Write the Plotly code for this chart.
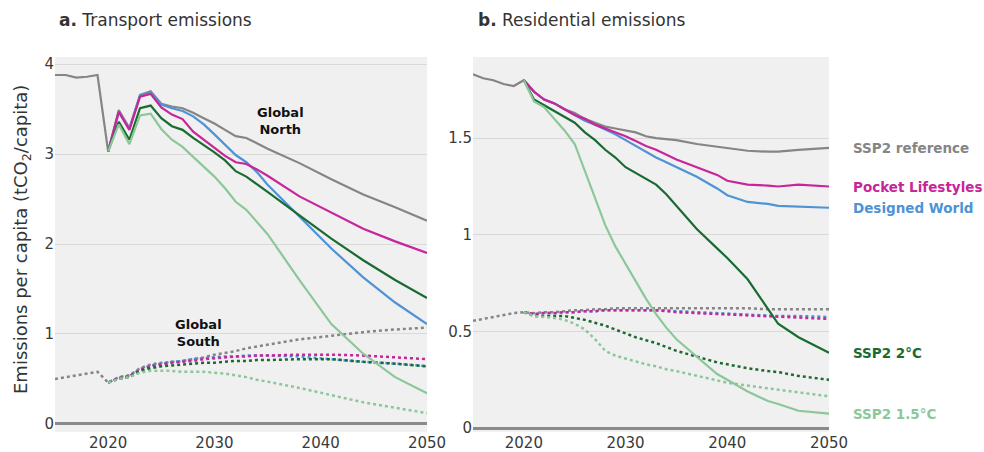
import plotly.graph_objects as go

# ---------------- data ----------------
HIST_YEARS = [2015, 2016, 2017, 2018, 2019]

# Transport (panel a)
YEARS_A = [2020, 2021, 2022, 2023, 2024, 2025, 2026, 2027, 2028, 2029, 2030,
           2031, 2032, 2033, 2034, 2035, 2038, 2041, 2044, 2047, 2050]

north_hist = [3.88, 3.88, 3.85, 3.86, 3.88]
north_ref = [3.03, 3.49, 3.29, 3.66, 3.70, 3.56, 3.53, 3.51, 3.46, 3.40, 3.34,
             3.27, 3.20, 3.18, 3.12, 3.06, 2.90, 2.72, 2.55, 2.41, 2.26]
north_pocket = [3.03, 3.47, 3.27, 3.64, 3.67, 3.52, 3.44, 3.39, 3.25, 3.16, 3.07,
                2.98, 2.91, 2.89, 2.83, 2.76, 2.53, 2.35, 2.17, 2.03, 1.90]
north_designed = [3.03, 3.47, 3.28, 3.65, 3.68, 3.55, 3.51, 3.48, 3.42, 3.33, 3.22,
                  3.11, 2.99, 2.91, 2.80, 2.66, 2.30, 1.95, 1.63, 1.35, 1.11]
north_2c = [3.03, 3.36, 3.16, 3.51, 3.54, 3.40, 3.31, 3.27, 3.18, 3.10, 3.02,
            2.93, 2.81, 2.75, 2.67, 2.58, 2.32, 2.06, 1.82, 1.60, 1.40]
north_15c = [3.03, 3.33, 3.11, 3.43, 3.45, 3.28, 3.16, 3.08, 2.97, 2.86, 2.75,
             2.62, 2.47, 2.38, 2.25, 2.11, 1.60, 1.11, 0.78, 0.52, 0.34]

south_hist = [0.50, 0.52, 0.54, 0.56, 0.58]
south_ref = [0.46, 0.52, 0.54, 0.62, 0.66, 0.68, 0.69, 0.70, 0.72, 0.74, 0.77,
             0.79, 0.81, 0.84, 0.86, 0.88, 0.94, 0.98, 1.02, 1.05, 1.07]
south_pocket = [0.46, 0.51, 0.53, 0.60, 0.64, 0.66, 0.68, 0.69, 0.70, 0.72, 0.73,
                0.74, 0.75, 0.75, 0.76, 0.76, 0.77, 0.77, 0.76, 0.74, 0.72]
south_designed = [0.46, 0.51, 0.53, 0.61, 0.65, 0.67, 0.69, 0.70, 0.72, 0.73, 0.74,
                  0.75, 0.75, 0.76, 0.76, 0.76, 0.75, 0.72, 0.69, 0.67, 0.64]
south_2c = [0.46, 0.50, 0.52, 0.59, 0.62, 0.64, 0.65, 0.66, 0.67, 0.68, 0.68,
            0.69, 0.70, 0.70, 0.71, 0.71, 0.72, 0.72, 0.69, 0.67, 0.64]
south_15c = [0.46, 0.50, 0.52, 0.57, 0.59, 0.59, 0.59, 0.58, 0.58, 0.58, 0.57,
             0.56, 0.54, 0.52, 0.49, 0.47, 0.40, 0.32, 0.24, 0.18, 0.12]

# Residential (panel b)
YEARS_B = [2020, 2021, 2022, 2023, 2024, 2025, 2026, 2027, 2028, 2029, 2030,
           2031, 2032, 2033, 2034, 2035, 2037, 2039, 2040, 2042, 2044, 2045, 2047, 2050]

res_north_hist = [1.83, 1.81, 1.80, 1.78, 1.77]
res_north_ref = [1.80, 1.74, 1.70, 1.68, 1.65, 1.63, 1.60, 1.58, 1.56, 1.55, 1.54,
                 1.53, 1.51, 1.50, 1.495, 1.49, 1.47, 1.455, 1.45, 1.435, 1.43, 1.43, 1.44, 1.45]
res_north_pocket = [1.80, 1.74, 1.70, 1.68, 1.65, 1.62, 1.60, 1.57, 1.55, 1.53, 1.51,
                    1.485, 1.46, 1.44, 1.415, 1.39, 1.35, 1.31, 1.28, 1.26, 1.255, 1.25, 1.26, 1.25]
res_north_designed = [1.80, 1.74, 1.70, 1.68, 1.65, 1.62, 1.59, 1.57, 1.545, 1.52, 1.49,
                      1.46, 1.43, 1.40, 1.375, 1.35, 1.30, 1.24, 1.205, 1.17, 1.16, 1.15, 1.145, 1.14]
res_north_2c = [1.80, 1.70, 1.67, 1.64, 1.61, 1.58, 1.53, 1.49, 1.44, 1.40, 1.35,
                1.32, 1.29, 1.26, 1.21, 1.15, 1.03, 0.93, 0.88, 0.77, 0.62, 0.54, 0.47, 0.39]
res_north_15c = [1.80, 1.69, 1.66, 1.60, 1.54, 1.47, 1.33, 1.18, 1.05, 0.94, 0.85,
                 0.76, 0.67, 0.59, 0.52, 0.46, 0.37, 0.28, 0.25, 0.19, 0.14, 0.125, 0.09, 0.075]

res_south_hist = [0.555, 0.565, 0.575, 0.585, 0.595]
res_south_ref = [0.60, 0.595, 0.60, 0.60, 0.605, 0.61, 0.61, 0.615, 0.615, 0.62, 0.62,
                 0.62, 0.62, 0.62, 0.62, 0.62, 0.62, 0.62, 0.62, 0.62, 0.615, 0.615, 0.615, 0.615]
res_south_pocket = [0.60, 0.59, 0.595, 0.595, 0.60, 0.60, 0.605, 0.605, 0.61, 0.61, 0.61,
                    0.61, 0.61, 0.61, 0.605, 0.60, 0.595, 0.59, 0.59, 0.585, 0.58, 0.575, 0.57, 0.565]
res_south_designed = [0.60, 0.59, 0.595, 0.595, 0.60, 0.60, 0.605, 0.605, 0.61, 0.61, 0.61,
                      0.61, 0.61, 0.61, 0.61, 0.605, 0.60, 0.595, 0.595, 0.59, 0.585, 0.58, 0.58, 0.575]
res_south_2c = [0.60, 0.58, 0.58, 0.58, 0.58, 0.57, 0.56, 0.545, 0.53, 0.51, 0.49,
                0.47, 0.455, 0.44, 0.42, 0.40, 0.37, 0.34, 0.33, 0.31, 0.295, 0.29, 0.27, 0.25]
res_south_15c = [0.60, 0.58, 0.575, 0.57, 0.56, 0.54, 0.51, 0.46, 0.40, 0.375, 0.36,
                 0.345, 0.33, 0.32, 0.305, 0.295, 0.27, 0.245, 0.235, 0.22, 0.205, 0.20, 0.185, 0.165]

SCENARIOS = ["SSP2 reference", "Pocket Lifestyles", "Designed World", "SSP2 2°C", "SSP2 1.5°C"]
COLORS = ["#858585", "#c8259a", "#4d93d5", "#1a6b32", "#8cc79a"]

X_TICKS = [2020, 2030, 2040, 2050]
Y_TICKS_A = [0, 1, 2, 3, 4]
Y_TICKS_B = [0, 0.5, 1, 1.5]
Y_TICKTEXT_B = ["0", "0.5", "1", "1.5"]

# ---------------- figure ----------------
FONT = "DejaVu Sans"
W, H = 984, 452
TICK_FONT = dict(family=FONT, size=15, color="#3a3a3a")

fig = go.Figure()

transport_north = [north_ref, north_pocket, north_designed, north_2c, north_15c]
transport_south = [south_ref, south_pocket, south_designed, south_2c, south_15c]
resid_north = [res_north_ref, res_north_pocket, res_north_designed, res_north_2c, res_north_15c]
resid_south = [res_south_ref, res_south_pocket, res_south_designed, res_south_2c, res_south_15c]


def add_panel(years, hist_n, hist_s, north, south, xa, ya):
    # Global South: dotted lines
    order = [0, 2, 1, 3, 4]
    for i in order:
        xs = years if i else HIST_YEARS + years
        ys = south[i] if i else hist_s + south[i]
        fig.add_trace(go.Scatter(x=xs, y=ys, mode="lines", xaxis=xa, yaxis=ya,
                                 line=dict(color=COLORS[i], width=2.5, dash="dot"),
                                 showlegend=False, hoverinfo="skip"))
    # Global North: solid lines
    for i in order:
        xs = years if i else HIST_YEARS + years
        ys = north[i] if i else hist_n + north[i]
        fig.add_trace(go.Scatter(x=xs, y=ys, mode="lines", xaxis=xa, yaxis=ya,
                                 line=dict(color=COLORS[i], width=2.2),
                                 showlegend=False, hoverinfo="skip"))


add_panel(YEARS_A, north_hist, south_hist, transport_north, transport_south, "x", "y")
add_panel(YEARS_B, res_north_hist, res_south_hist, resid_north, resid_south, "x2", "y2")

Y_DOM = [1 - 432 / H, 1 - 57 / H]
y_common = dict(
    showgrid=True, gridcolor="#d9d9d9", gridwidth=1,
    zeroline=True, zerolinecolor="#8a8a8a", zerolinewidth=3,
    showline=False, ticks="", tickfont=TICK_FONT, automargin=False,
)
x_common = dict(
    range=[2015, 2050], tickvals=X_TICKS, showgrid=False, zeroline=False,
    showline=False, ticks="", tickfont=TICK_FONT, automargin=False,
)

fig.update_layout(
    width=W, height=H,
    margin=dict(l=0, r=0, t=0, b=0),
    paper_bgcolor="white",
    plot_bgcolor="#f0f0f0",
    font=dict(family=FONT, color="#333333"),
    xaxis=dict(domain=[55 / W, 427 / W], anchor="y", **x_common),
    yaxis=dict(domain=Y_DOM, range=[-0.09, 4.08], tickvals=Y_TICKS_A, anchor="x",
               **y_common),
    xaxis2=dict(domain=[473 / W, 829 / W], anchor="y2", **x_common),
    yaxis2=dict(domain=Y_DOM, range=[-0.02, 1.92], tickvals=Y_TICKS_B,
                ticktext=Y_TICKTEXT_B, anchor="x2", **y_common),
)

annotations = [
    dict(text="<b>a.</b> Transport emissions", xref="paper", yref="paper",
         x=57 / W, y=1 - 20 / H, xanchor="left", yanchor="middle", showarrow=False,
         font=dict(family=FONT, size=17, color="#333333")),
    dict(text="<b>b.</b> Residential emissions", xref="paper", yref="paper",
         x=476 / W, y=1 - 20 / H, xanchor="left", yanchor="middle", showarrow=False,
         font=dict(family=FONT, size=17, color="#333333")),
    dict(text="Emissions per capita (tCO<sub>2</sub>/capita)", xref="paper", yref="paper",
         x=22 / W, y=1 - 240 / H, xanchor="center", yanchor="middle", textangle=-90,
         showarrow=False, font=dict(family=FONT, size=18, color="#333333")),
    dict(text="<b>Global<br>North</b>", xref="x", yref="y", x=2036.2, y=3.37,
         xanchor="center", yanchor="middle", showarrow=False,
         font=dict(family=FONT, size=13, color="#111111")),
    dict(text="<b>Global<br>South</b>", xref="x", yref="y", x=2028.5, y=1.01,
         xanchor="center", yanchor="middle", showarrow=False,
         font=dict(family=FONT, size=13, color="#111111")),
]

# scenario labels at the end of the residential lines
for name, color, series in zip(SCENARIOS, COLORS, resid_north):
    annotations.append(dict(text=f"<b>{name}</b>", xref="x2", yref="y2",
                            x=YEARS_B[-1], y=series[-1], xanchor="left", yanchor="middle",
                            xshift=22, showarrow=False,
                            font=dict(family=FONT, size=13.5, color=color)))

fig.update_layout(annotations=annotations)

fig.write_html("out.html")
